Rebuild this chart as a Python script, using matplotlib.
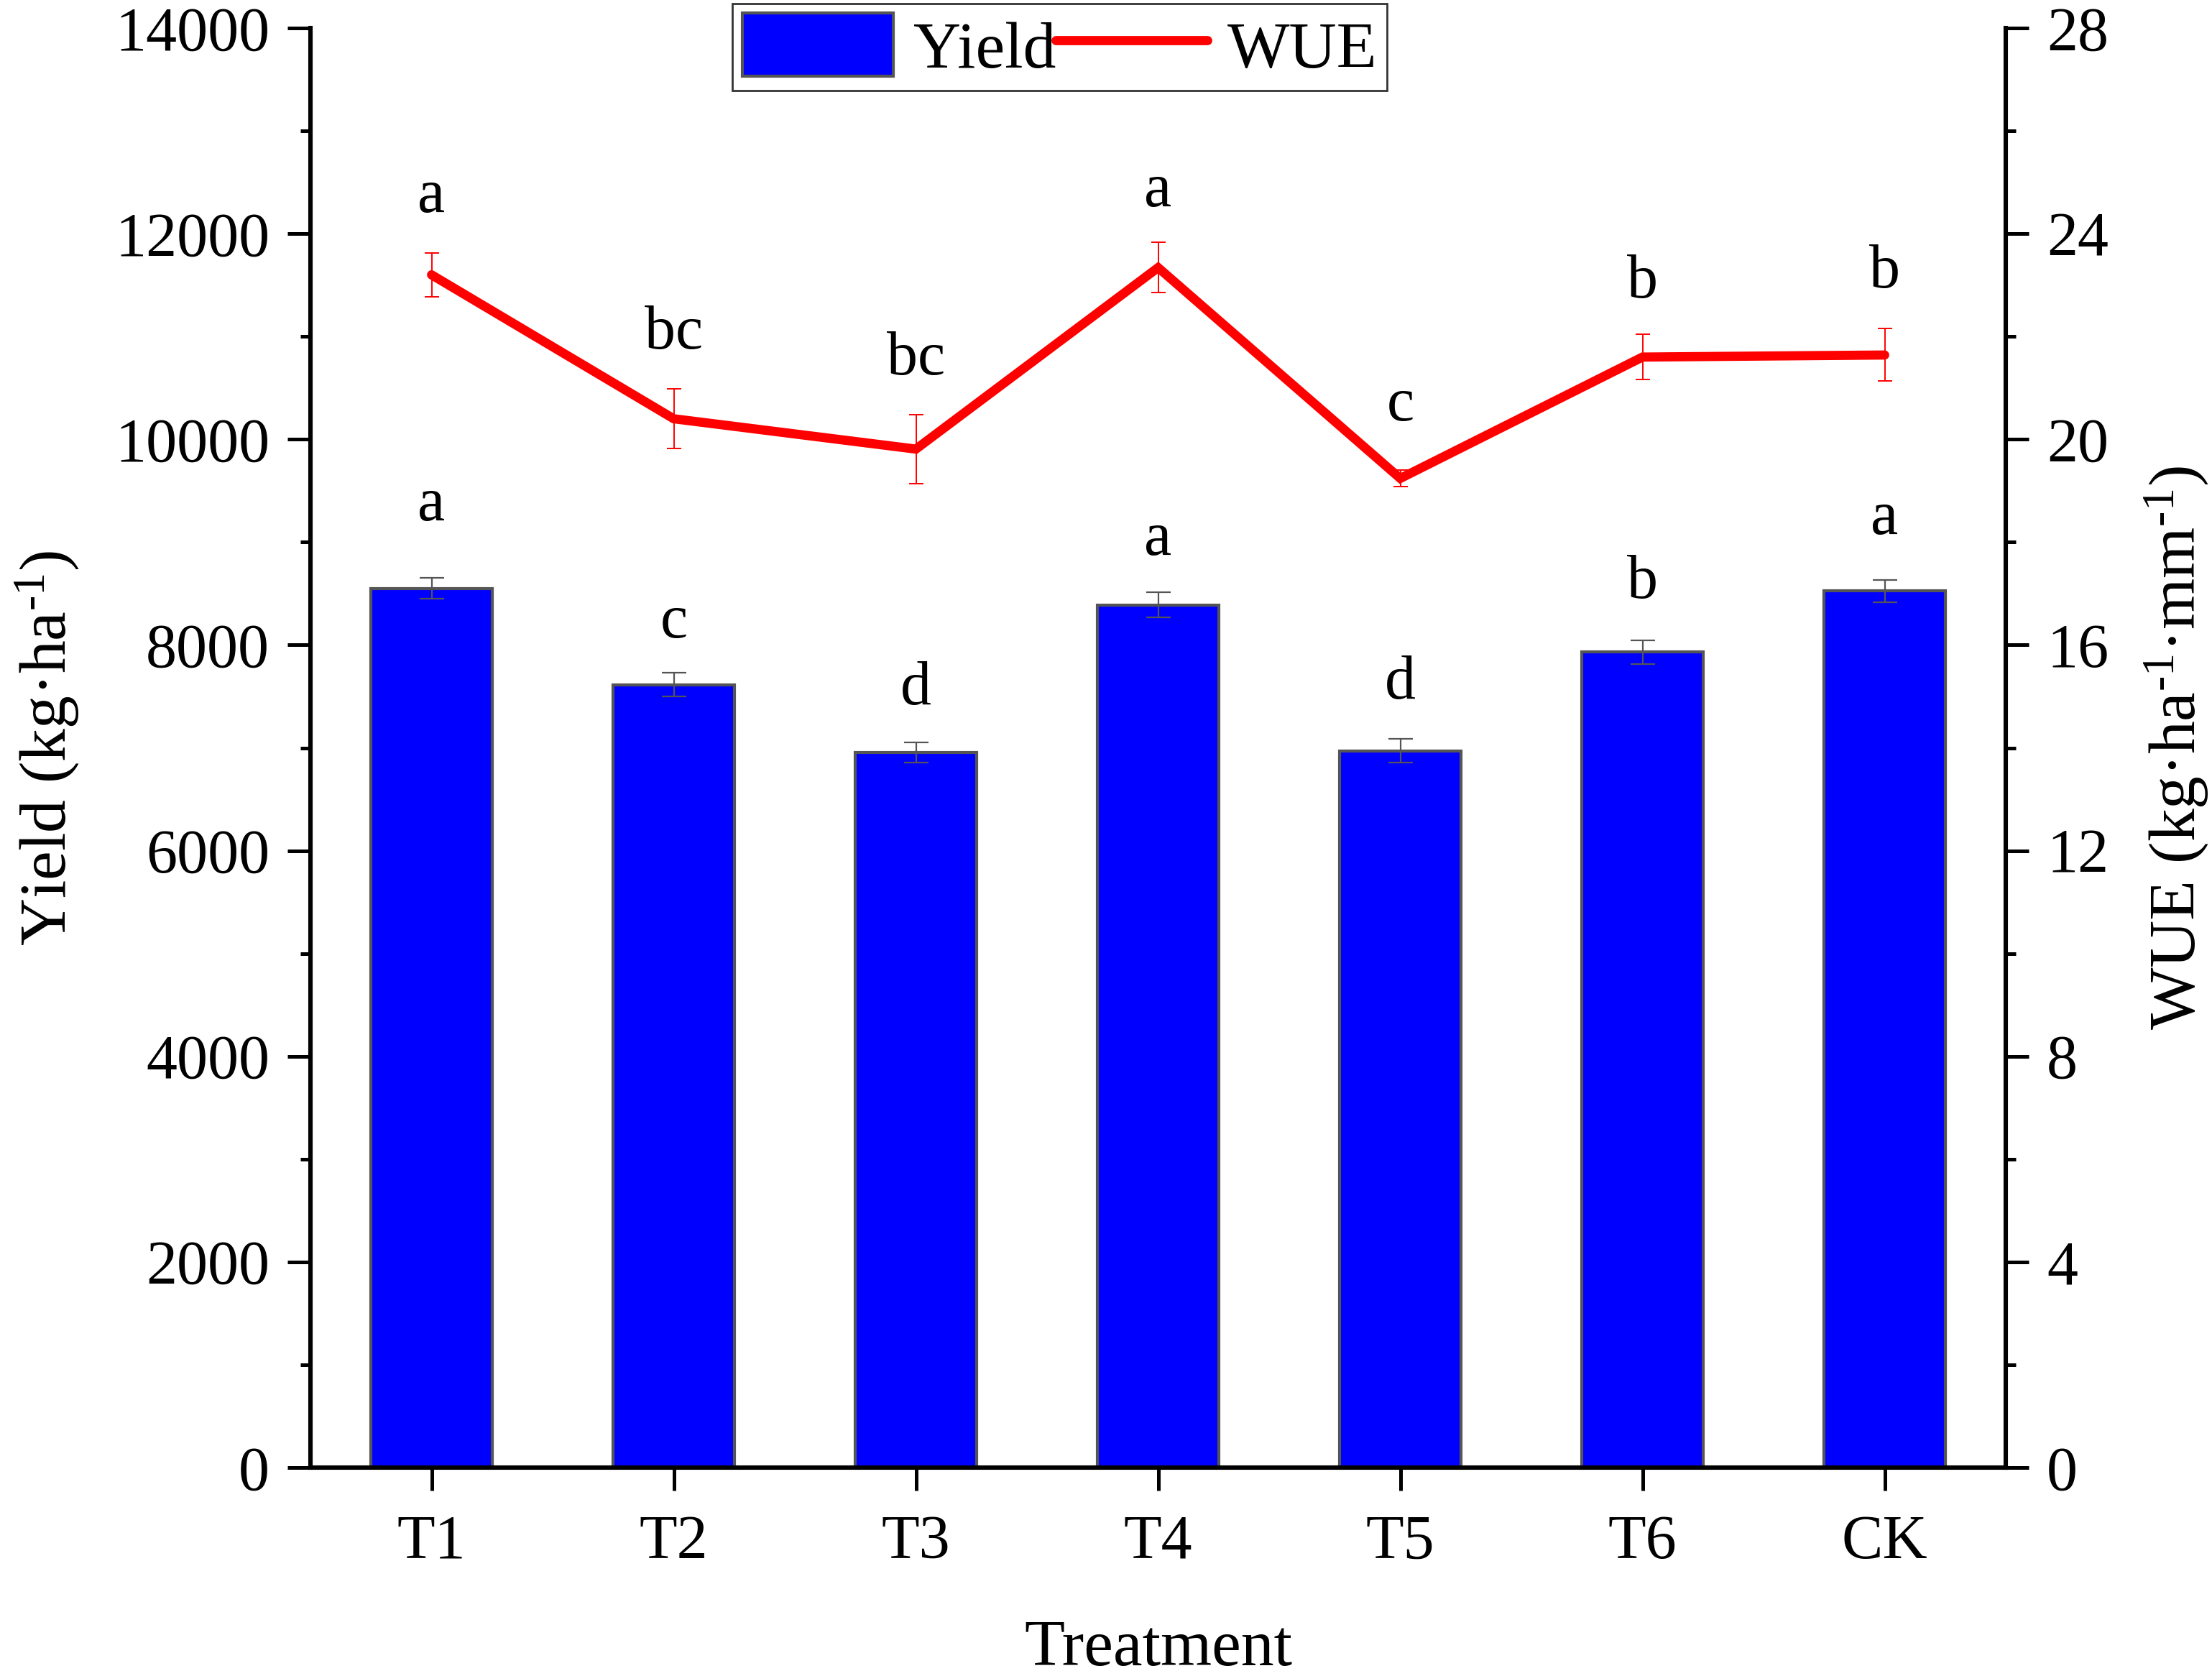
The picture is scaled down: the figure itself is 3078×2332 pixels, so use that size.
import matplotlib
matplotlib.use("Agg")
import matplotlib.pyplot as plt
import numpy as np

# ---- data ----
treatments = ["T1", "T2", "T3", "T4", "T5", "T6", "CK"]
yield_mean = [8550, 7615, 6955, 8390, 6970, 7930, 8525]
yield_err = [100, 114, 100, 121, 115, 118, 110]
wue_mean = [23.20, 20.40, 19.81, 23.34, 19.24, 21.60, 21.64]
wue_err = [0.43, 0.58, 0.67, 0.49, 0.16, 0.44, 0.51]
yield_letters = ["a", "c", "d", "a", "d", "b", "a"]
wue_letters = ["a", "bc", "bc", "a", "c", "b", "b"]
# letter anchor heights (data units)
yield_letter_y = [9212, 8073, 7426, 8880, 7479, 8458, 9080]
wue_letter_y = [24.42, 21.76, 21.26, 24.54, 20.37, 22.76, 22.95]

plt.rcParams["font.family"] = ["Liberation Serif", "DejaVu Serif"]
plt.rcParams["mathtext.fontset"] = "custom"
plt.rcParams["mathtext.rm"] = "Liberation Serif"
plt.rcParams["mathtext.it"] = "Liberation Serif:italic"
plt.rcParams["mathtext.bf"] = "Liberation Serif:bold"

W, H, DPI = 3078, 2332, 200
fig = plt.figure(figsize=(W / DPI, H / DPI), dpi=DPI)
ax = fig.add_axes([432 / W, 1 - 2042 / H, (2791 - 432) / W, (2042 - 39) / H])
ax2 = ax.twinx()

x = np.arange(len(treatments))
bars = ax.bar(x, yield_mean, width=0.5, color="#0000FF", edgecolor="#555555",
              linewidth=1.5, zorder=2, label="Yield")
ax.errorbar(x, yield_mean, yerr=yield_err, fmt="none", ecolor="#555555",
            elinewidth=0.8, capsize=6, capthick=0.8, zorder=3)

ax2.errorbar(x, wue_mean, yerr=wue_err, fmt="none", ecolor="#FF0000",
             elinewidth=0.7, capsize=3.5, capthick=0.7, zorder=3)
line, = ax2.plot(x, wue_mean, color="#FF0000", linewidth=4.6,
                 solid_capstyle="round", solid_joinstyle="miter", zorder=4, label="WUE")

for xi, t, yv in zip(x, yield_letters, yield_letter_y):
    ax.text(xi, yv, t, ha="center", va="baseline", fontsize=31)
for xi, t, yv in zip(x, wue_letters, wue_letter_y):
    ax2.text(xi, yv, t, ha="center", va="baseline", fontsize=31)

ax.set_xlim(-0.5, 6.5)
ax.set_ylim(0, 14000)
ax2.set_ylim(0, 28)
ax.set_xticks(x)
ax.set_xticklabels(treatments)
ax.set_yticks(np.arange(0, 14001, 2000))
ax.set_yticks(np.arange(1000, 14000, 2000), minor=True)
ax2.set_yticks(np.arange(0, 29, 4))
ax2.set_yticks(np.arange(2, 28, 4), minor=True)

for a in (ax, ax2):
    a.spines["top"].set_visible(False)
    for s in ("left", "right", "bottom"):
        a.spines[s].set_linewidth(2.2)
ax.spines["right"].set_visible(False)
ax2.spines["left"].set_visible(False)
ax2.spines["bottom"].set_visible(False)

ax.tick_params(axis="both", which="major", direction="out", length=11.5, width=1.8,
               labelsize=31, pad=9)
ax.tick_params(axis="y", which="minor", direction="out", length=5, width=1.8)
ax.tick_params(axis="x", which="major", pad=12)
ax2.tick_params(axis="y", which="major", direction="out", length=11.5, width=1.8,
                labelsize=31, pad=9)
ax2.tick_params(axis="y", which="minor", direction="out", length=5, width=1.8)

ax.set_xlabel("Treatment", fontsize=33, labelpad=24)
ax.set_ylabel("Yield (kg·ha$^{\u20101}$)", fontsize=33, labelpad=17)
ax2.set_ylabel("WUE (kg·ha$^{\u20101}$·mm$^{\u20101}$)", fontsize=33, labelpad=17)

leg = fig.legend([bars, line], ["Yield", "WUE"], ncol=2, loc="upper center",
                 bbox_to_anchor=(0.479, 0.998), bbox_transform=fig.transFigure,
                 fontsize=33, frameon=True, fancybox=False, edgecolor="black",
                 borderpad=0.15, borderaxespad=0, handlelength=2.3, handleheight=1.1,
                 handletextpad=0.3, columnspacing=0.0)
leg.get_frame().set_linewidth(1.0)

fig.savefig("out.png", dpi=DPI, facecolor="white")
